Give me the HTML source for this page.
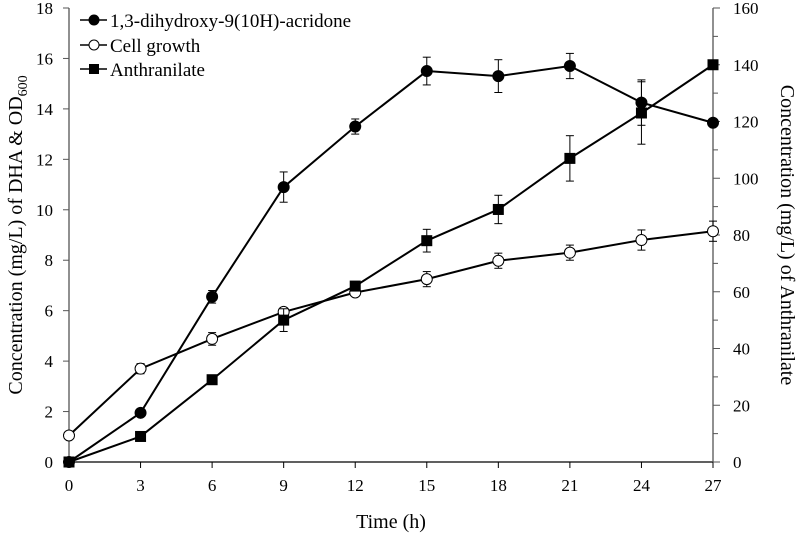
<!DOCTYPE html>
<html><head><meta charset="utf-8"><style>
html,body{margin:0;padding:0;background:#fff;}
svg{display:block;font-family:"Liberation Serif",serif;}
</style></head><body>
<svg id="c" width="797" height="537" viewBox="0 0 797 537"></svg>
<script>
const times=[0,3,6,9,12,15,18,21,24,27];
const dha=[0,1.95,6.55,10.9,13.3,15.5,15.3,15.7,14.25,13.45];
const dhaErr=[0,0,0.25,0.6,0.3,0.55,0.65,0.5,0.9,0];
const cell=[1.05,3.7,4.88,5.95,6.72,7.25,7.98,8.3,8.8,9.15];
const cellErr=[0,0.2,0.25,0.15,0.1,0.3,0.3,0.3,0.4,0.4];
const anth=[0,9,29,50,62,78,89,107,123,140];
const anthErr=[0,0,0,4,0,4,5,8,11,0];
const xTicks=[0,3,6,9,12,15,18,21,24,27];
const yLTicks=[0,2,4,6,8,10,12,14,16,18];
const yRTicks=[0,20,40,60,80,100,120,140,160];

const NS="http://www.w3.org/2000/svg";
const svg=document.getElementById('c');
const X0=69,X1=713,Y0=462,Y1=8;
const sx=v=>X0+(v-0)/27*(X1-X0);
const syL=v=>Y0-v/18*(Y0-Y1);
const syR=v=>Y0-v/160*(Y0-Y1);
function el(t,a,p){const e=document.createElementNS(NS,t);for(const k in a)e.setAttribute(k,a[k]);(p||svg).appendChild(e);return e;}

let g=el('g',{});


el('line',{x1:X0,y1:Y0,x2:X1,y2:Y0,stroke:'#000','stroke-width':1.3},g);
el('line',{x1:X0,y1:Y0,x2:X0,y2:Y1,stroke:'#555','stroke-width':1.3},g);
el('line',{x1:X1,y1:Y0,x2:X1,y2:Y1,stroke:'#555','stroke-width':1.3},g);
xTicks.forEach(v=>{
  el('line',{x1:sx(v),y1:Y0,x2:sx(v),y2:Y0+6,stroke:'#000'},g);
  const t=el('text',{x:sx(v),y:Y0+29,'text-anchor':'middle','font-size':17},g);
  
  
  t.textContent=v;
});
yLTicks.forEach(v=>{
  el('line',{x1:X0-6,y1:syL(v),x2:X0,y2:syL(v),stroke:'#555'},g);
  const t=el('text',{x:53,y:syL(v)+6,'text-anchor':'end','font-size':17},g);
  
  
  t.textContent=v;
});
yRTicks.forEach((v,i)=>{
  el('line',{x1:X1,y1:syR(v),x2:X1+7,y2:syR(v),stroke:'#555'},g);
  if(i<yRTicks.length-1){const m=(v+yRTicks[i+1])/2;el('line',{x1:X1,y1:syR(m),x2:X1+5,y2:syR(m),stroke:'#555'},g);}
  const t=el('text',{x:733,y:syR(v)+6,'text-anchor':'start','font-size':17},g);
  
  
  t.textContent=v;
});

function series(name,vals,errs,sy,marker){
  const sg=el('g',{});
  
  
  el('polyline',{points:vals.map((v,i)=>sx(times[i])+','+sy(v)).join(' '),fill:'none',stroke:'#000','stroke-width':2},sg);
  vals.forEach((v,i)=>{
    if(errs[i]>0){
      const x=sx(times[i]),a=sy(v-errs[i]),b=sy(v+errs[i]);
      el('line',{x1:x,y1:a,x2:x,y2:b,stroke:'#000','stroke-width':1},sg);
      el('line',{x1:x-4,y1:a,x2:x+4,y2:a,stroke:'#000','stroke-width':1},sg);
      el('line',{x1:x-4,y1:b,x2:x+4,y2:b,stroke:'#000','stroke-width':1},sg);
    }
  });
  vals.forEach((v,i)=>{
    const x=sx(times[i]),y=sy(v);let m;
    if(marker==='sq') m=el('rect',{x:x-5.5,y:y-5.5,width:11,height:11,fill:'#000'},sg);
    else m=el('circle',{cx:x,cy:y,r:5.5,fill:marker==='open'?'#fff':'#000',stroke:'#000','stroke-width':1},sg);
    
    
  });
}
series('cell-growth',cell,cellErr,syL,'open');
series('anthranilate',anth,anthErr,syR,'sq');
series('dha',dha,dhaErr,syL,'filled');

const lg=el('g',{});


[['1,3-dihydroxy-9(10H)-acridone','filled',20],['Cell growth','open',45],['Anthranilate','sq',69]].forEach(([lab,mk,y])=>{
  const eg=el('g',{},lg);
  
  
  el('line',{x1:80,y1:y,x2:107,y2:y,stroke:'#000','stroke-width':1.5},eg);
  if(mk==='sq') el('rect',{x:89,y:y-5,width:10,height:10,fill:'#000'},eg);
  else el('circle',{cx:94,cy:y,r:5,fill:mk==='open'?'#fff':'#000',stroke:'#000'},eg);
  const t=el('text',{x:110,y:y+7,'font-size':19},eg);t.textContent=lab;
});

let t=el('text',{x:391,y:528,'text-anchor':'middle','font-size':20});

t.textContent='Time (h)';
t=el('text',{x:0,y:0,'text-anchor':'middle','font-size':20,transform:'translate(22,235) rotate(-90)'});

t.innerHTML='Concentration  (mg/L) of DHA &amp; OD<tspan font-size="14" dy="5">600</tspan>';
t=el('text',{x:0,y:0,'text-anchor':'middle','font-size':20,transform:'translate(781,235) rotate(90)'});

t.textContent='Concentration  (mg/L) of Anthranilate';
</script>
</body></html>
